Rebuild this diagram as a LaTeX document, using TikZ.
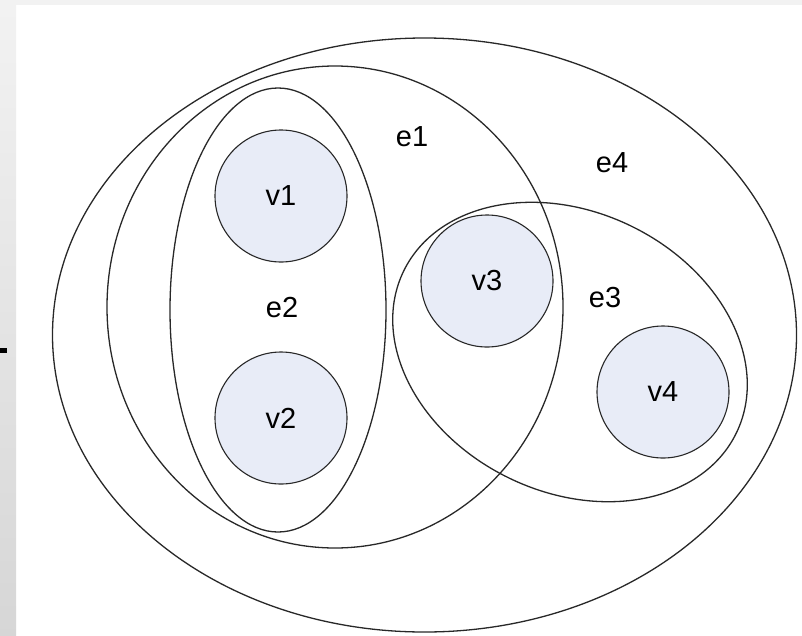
\documentclass[tikz,border=0pt]{standalone}
\usepackage{fontspec}
\setmainfont{Liberation Sans}
\usetikzlibrary{shapes.geometric}
\definecolor{vfill}{RGB}{232,236,247}
\definecolor{edgeline}{RGB}{40,40,40}
\begin{document}
\begin{tikzpicture}[x=1pt,y=-1pt,
  hedge/.style={draw=edgeline,line width=1.3pt,ellipse,inner sep=0pt},
  vertex/.style={draw=edgeline,line width=1.1pt,circle,fill=vfill,minimum size=132pt,inner sep=0pt,font=\fontsize{29}{34}\selectfont},
  lbl/.style={font=\fontsize{29}{34}\selectfont,inner sep=0pt}]
\useasboundingbox (0,0) rectangle (802,635);
\fill[white] (0,0) rectangle (802,635);
\fill[black!5] (0,0) rectangle (802,5);
\shade[top color=black!5,bottom color=black!16] (0,0) rectangle (16,635);
\fill[black] (0,348) rectangle (7,353);
% hyperedges
\node[hedge,minimum width=744pt,minimum height=594pt] (e4) at (424.5,335) {};
\node[hedge,minimum width=456pt,minimum height=482pt] (e1) at (335,307) {};
\node[hedge,minimum width=216pt,minimum height=444pt] (e2) at (278,310) {};
\node[hedge,minimum width=370pt,minimum height=280pt,rotate=-26] (e3) at (570,352) {};
% vertices
\node[vertex] (v1) at (281,196) {v1};
\node[vertex] (v2) at (281,418) {v2};
\node[vertex] (v3) at (487,281) {v3};
\node[vertex] (v4) at (663,392) {v4};
% labels
\node[lbl] (le1) at (412,137) {e1};
\node[lbl] (le2) at (282,308) {e2};
\node[lbl] (le3) at (605,298) {e3};
\node[lbl] (le4) at (612,163) {e4};
\end{tikzpicture}
\end{document}
